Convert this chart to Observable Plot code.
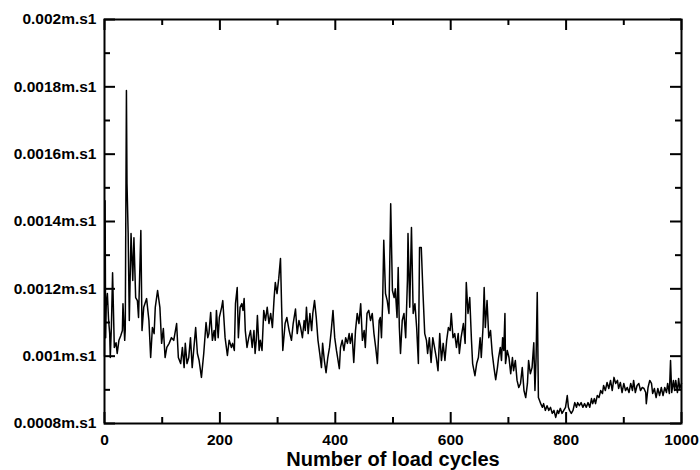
<!DOCTYPE html>
<html>
<head>
<meta charset="utf-8">
<script src="https://cdn.jsdelivr.net/npm/d3@7"></script>
<script src="https://cdn.jsdelivr.net/npm/@observablehq/plot@0.6"></script>
<style>
  html, body { margin: 0; padding: 0; background: white; }
  g[aria-label="x-axis label"] text { font-size: 20px; }
</style>
</head>
<body>
<div id="chart"></div>
<script>
const cycles = [0,1,2,3,5,7,9,10,12,14,17,20,22,25,28,31,32,35,36,38,39,41,43,46,49,51,54,57,59,63,65,68,73,77,80,83,86,88,92,96,99,102,105,108,112,116,120,125,128,132,135,138,140,143,146,149,152,155,158,161,164,168,172,176,179,181,184,187,190,192,194,197,199,203,205,209,213,216,220,222,225,227,230,232,235,238,240,242,244,247,250,253,256,259,261,263,265,268,270,273,276,279,282,285,288,291,294,296,299,302,305,307,309,313,316,320,324,327,331,334,337,340,343,346,348,350,353,356,359,361,364,367,370,373,376,378,381,384,387,390,393,396,399,402,404,407,409,412,415,418,421,424,426,429,432,435,438,441,444,447,450,452,455,458,461,464,467,470,473,476,478,480,482,484,487,490,493,496,499,502,504,507,509,511,513,516,519,522,525,526,529,532,535,538,541,544,546,549,552,555,558,560,563,566,569,572,575,578,581,584,587,590,593,596,599,601,604,607,610,613,615,618,622,625,627,630,633,636,638,642,645,648,651,653,656,658,660,663,666,669,672,675,678,681,683,686,688,690,692,694,695,698,701,704,707,709,712,715,718,721,724,727,730,733,735,738,741,744,746,748,750,752,754,756,759,761,764,767,770,773,776,779,782,785,787,790,793,796,799,802,804,806,809,812,815,818,820,823,826,829,832,835,838,841,844,846,849,851,854,857,860,863,865,868,871,874,877,880,883,886,889,891,894,897,900,903,906,909,912,915,917,920,923,926,929,932,935,938,939,942,945,948,950,953,956,959,962,965,968,971,974,976,979,981,983,986,988,990,993,995,997,1000];

const velocity = [0.001000,0.001462,0.001055,0.001150,0.001186,0.001110,0.001067,0.000996,0.001090,0.001248,0.001026,0.001040,0.001008,0.001047,0.001060,0.001076,0.001156,0.001047,0.001080,0.001789,0.001513,0.001364,0.001106,0.001364,0.001225,0.001352,0.001174,0.001165,0.001115,0.001373,0.001076,0.001145,0.001171,0.001106,0.000996,0.001085,0.001067,0.001145,0.001195,0.001145,0.001038,0.001082,0.000996,0.001026,0.001038,0.001055,0.001047,0.001097,0.000996,0.000978,0.001026,0.000966,0.001038,0.000978,0.000996,0.001055,0.000966,0.001026,0.001085,0.001008,0.000987,0.000937,0.001008,0.001100,0.001055,0.001067,0.001130,0.001047,0.001076,0.001047,0.001136,0.001055,0.001115,0.001145,0.001165,0.001055,0.001002,0.001047,0.001026,0.001038,0.001017,0.001156,0.001204,0.001055,0.001145,0.001156,0.001136,0.001171,0.001076,0.001026,0.001055,0.001076,0.001026,0.001076,0.001008,0.001047,0.001121,0.001017,0.001047,0.001017,0.001136,0.001106,0.001145,0.001097,0.001127,0.001085,0.001174,0.001219,0.001186,0.001231,0.001290,0.001145,0.001017,0.001097,0.001115,0.001076,0.001047,0.001097,0.001140,0.001067,0.001106,0.001085,0.001055,0.001106,0.001076,0.001145,0.001067,0.001127,0.001076,0.001127,0.001165,0.001115,0.001047,0.001008,0.000966,0.001038,0.000987,0.000951,0.000996,0.001026,0.001076,0.001136,0.001055,0.001017,0.000996,0.000963,0.001026,0.001047,0.001017,0.001055,0.001038,0.001067,0.001038,0.001067,0.000981,0.001076,0.001127,0.001097,0.001156,0.001047,0.001076,0.001026,0.001127,0.001136,0.001106,0.001127,0.001067,0.001026,0.000978,0.001106,0.001115,0.001055,0.001156,0.001344,0.001186,0.001165,0.001127,0.001453,0.001195,0.001174,0.001200,0.001115,0.001263,0.001085,0.001008,0.001106,0.001127,0.001055,0.001225,0.001364,0.001145,0.001382,0.001127,0.001156,0.001085,0.000978,0.001323,0.001323,0.001186,0.001067,0.001047,0.001008,0.001055,0.000981,0.001055,0.001026,0.000996,0.000957,0.001067,0.000987,0.001038,0.000987,0.001047,0.001085,0.001076,0.001127,0.001055,0.001067,0.001026,0.001067,0.001008,0.001055,0.001097,0.001038,0.001219,0.001127,0.001174,0.001047,0.000978,0.000942,0.000978,0.000996,0.001055,0.000996,0.001085,0.001204,0.001085,0.001165,0.001055,0.001076,0.001008,0.000966,0.000930,0.000966,0.000996,0.001026,0.000987,0.001055,0.001017,0.001127,0.000978,0.001017,0.000996,0.000948,0.000996,0.000957,0.000987,0.000928,0.000907,0.000919,0.000966,0.000898,0.000877,0.000919,0.000987,0.000948,0.000966,0.001040,0.000898,0.000996,0.001189,0.000877,0.000868,0.000859,0.000848,0.000859,0.000839,0.000853,0.000839,0.000848,0.000830,0.000839,0.000818,0.000839,0.000830,0.000845,0.000830,0.000839,0.000848,0.000883,0.000848,0.000839,0.000830,0.000839,0.000862,0.000848,0.000862,0.000853,0.000862,0.000848,0.000859,0.000848,0.000862,0.000848,0.000874,0.000859,0.000874,0.000859,0.000883,0.000877,0.000898,0.000889,0.000913,0.000898,0.000922,0.000904,0.000928,0.000898,0.000937,0.000919,0.000928,0.000904,0.000922,0.000892,0.000919,0.000898,0.000907,0.000892,0.000919,0.000898,0.000928,0.000892,0.000913,0.000919,0.000898,0.000907,0.000904,0.000892,0.000859,0.000907,0.000928,0.000919,0.000889,0.000904,0.000877,0.000904,0.000883,0.000907,0.000883,0.000907,0.000892,0.000919,0.000889,0.000987,0.000892,0.000928,0.000898,0.000928,0.000892,0.000934,0.000904,0.000919];

const xTicks = [0, 200, 400, 600, 800, 1000];
const xMinorTicks = [100, 300, 500, 700, 900];
const yTicks = [0.0008, 0.001, 0.0012, 0.0014, 0.0016, 0.0018, 0.002];
const yTickLabels = ["0.0008m.s1", "0.001m.s1", "0.0012m.s1", "0.0014m.s1", "0.0016m.s1", "0.0018m.s1", "0.002m.s1"];
const yMinorTicks = [0.0009, 0.0011, 0.0013, 0.0015, 0.0017, 0.0019];
const xLabel = "Number of load cycles";

const data = cycles.map((c, i) => ({cycles: c, velocity: velocity[i]}));
const yLabelOf = new Map(yTicks.map((t, i) => [t, yTickLabels[i]]));

const W = 700, H = 470, ML = 104, MR = 19, MT = 19, MB = 47;
const FW = W - ML - MR, FH = H - MT - MB; // frame size in pixels
const MAJOR = 11, MINOR = 6, TW = 2;

// inward tick marks: rules spanning the frame, inset so only a short stub remains at one edge
const tickStyle = {stroke: "black", strokeWidth: TW, strokeLinecap: "butt"};
const leftTicks = (vals, len) => Plot.ruleY(vals, {y: d => d, insetRight: FW - len, ...tickStyle});
const rightTicks = (vals, len) => Plot.ruleY(vals, {y: d => d, insetLeft: FW - len, ...tickStyle});
const bottomTicks = (vals, len) => Plot.ruleX(vals, {x: d => d, insetTop: FH - len, ...tickStyle});
const topTicks = (vals, len) => Plot.ruleX(vals, {x: d => d, insetBottom: FH - len, ...tickStyle});

const chart = Plot.plot({
  width: W,
  height: H,
  marginLeft: ML,
  marginRight: MR,
  marginTop: MT,
  marginBottom: MB,
  style: {
    fontFamily: "'Liberation Sans', Arial, Helvetica, sans-serif",
    fontWeight: "bold",
    fontSize: "15.5px",
    color: "black",
    background: "white",
    overflow: "visible"
  },
  x: {domain: [0, 1000]},
  y: {domain: [0.0008, 0.002]},
  marks: [
    Plot.line(data, {x: "cycles", y: "velocity", stroke: "black", strokeWidth: 1.5}),
    Plot.axisX(xTicks, {anchor: "bottom", tickSize: 0, tickPadding: 10, tickFormat: d => String(d), label: xLabel, labelAnchor: "center", labelArrow: "none", labelOffset: 42}),
    Plot.axisY(yTicks, {anchor: "left", tickSize: 0, tickPadding: 8, tickFormat: d => yLabelOf.get(d), label: null}),
    leftTicks(yTicks, MAJOR),
    leftTicks(yMinorTicks, MINOR),
    rightTicks(yTicks, MAJOR),
    rightTicks(yMinorTicks, MINOR),
    bottomTicks(xTicks, MAJOR),
    bottomTicks(xMinorTicks, MINOR),
    topTicks(xTicks, MAJOR),
    topTicks(xMinorTicks, MINOR),
    Plot.frame({stroke: "black", strokeWidth: 2})
  ]
});
document.getElementById("chart").appendChild(chart);
</script>
</body>
</html>
